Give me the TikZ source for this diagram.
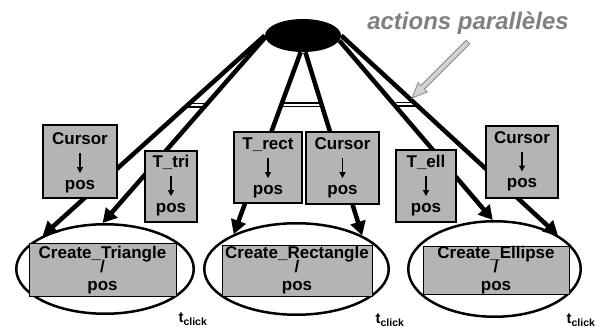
\documentclass[tikz,border=0pt]{standalone}
\usepackage{fontspec}
\setmainfont{Liberation Sans}
\usetikzlibrary{arrows.meta,shapes.geometric}
\definecolor{boxgray}{RGB}{180,180,180}
\definecolor{txtgray}{RGB}{128,128,128}
\definecolor{arrfill}{RGB}{212,212,212}
\definecolor{arredge}{RGB}{140,140,140}
\begin{document}
\begin{tikzpicture}[x=1pt,y=-1pt,
  evbox/.style={draw, fill=boxgray, line width=2.5pt, inner sep=0pt},
  cbox/.style={draw, fill=boxgray, line width=0.8pt, inner sep=0pt, align=center,
    font=\bfseries\fontsize{17}{16.5}\selectfont},
  lbl/.style={inner sep=0pt, text height=12pt, text depth=3.5pt,
    font=\bfseries\fontsize{17}{17}\selectfont},
  bigell/.style={draw, ellipse, line width=2.5pt, inner sep=0pt, fill=white},
  flow/.style={line width=4.5pt, -{Triangle[length=14pt,width=15pt]}},
  parbar/.style={line width=1.5pt, double=white, double distance=2pt},
  smallarr/.style={line width=1.3pt, -{Triangle[length=6pt,width=6pt]},
    shorten <=5pt, shorten >=4pt},
  tclick/.style={inner sep=0pt, font=\bfseries\fontsize{15}{15}\selectfont}
]
\useasboundingbox (0,0) rectangle (605,331);

% top node
\node[ellipse, fill=black, minimum width=76pt, minimum height=33pt, inner sep=0pt] (top) at (303,35.5) {};

% create ellipses
\node[bigell, minimum width=177.5pt, minimum height=89.5pt] (e1) at (105,269) {};
\node[bigell, minimum width=184.5pt, minimum height=91.5pt] (e2) at (296.5,269) {};
\node[bigell, minimum width=172.5pt, minimum height=95.5pt] (e3) at (494.5,269) {};

\node[cbox, minimum width=147pt, minimum height=53pt] (r1) at (102.5,270) {Create\_Triangle\\[-2.5pt]/\\[1.5pt]pos};
\node[cbox, minimum width=150pt, minimum height=51pt] (r2) at (297,270.5) {Create\_Rectangle\\[-2.5pt]/\\[1.5pt]pos};
\node[cbox, minimum width=146pt, minimum height=48pt] (r3) at (496,270) {Create\_Ellipse\\[-2.5pt]/\\[1.5pt]pos};

% parallel bars
\draw[parbar] (186,105.5) -- (206,105.5);
\draw[parbar] (280,105) -- (322,105);
\draw[parbar] (396,104.5) -- (415,104.5);

% flows
\draw[flow] (top.180) -- (e1.152);
\draw[flow] (top.183) -- (e1.93);
\draw[flow] (top.262) -- (e2.151);
\draw[flow] (top.278) -- (e2.27);
\draw[flow] (top.352) -- (e3.92);
\draw[flow] (top.0) -- (e3.28);

% event boxes
\node[evbox, minimum width=74pt, minimum height=73pt] (cu1) at (80,161.5) {};
\node[lbl] (cu1a) at (80,140) {Cursor};
\node[lbl] (cu1b) at (80,185) {pos};
\draw[smallarr] (cu1a) -- (cu1b);

\node[evbox, minimum width=52pt, minimum height=71pt] (tt) at (171,186.5) {};
\node[lbl] (tta) at (171,163) {T\_tri};
\node[lbl] (ttb) at (171,208) {pos};
\draw[smallarr, line width=2pt] (tta) -- (ttb);

\node[evbox, minimum width=68pt, minimum height=71pt] (tr) at (268,167.5) {};
\node[lbl] (tra) at (268,145.5) {T\_rect};
\node[lbl] (trb) at (268,190) {pos};
\draw[smallarr] (tra) -- (trb);

\node[evbox, minimum width=73pt, minimum height=72pt] (cu2) at (342.5,168) {};
\node[lbl] (cu2a) at (342.5,145.5) {Cursor};
\node[lbl] (cu2b) at (342.5,190) {pos};
\draw[smallarr] (cu2a) -- (cu2b);

\node[evbox, minimum width=60pt, minimum height=72pt] (te) at (426,186) {};
\node[lbl] (tea) at (426,163) {T\_ell};
\node[lbl] (teb) at (426,208) {pos};
\draw[smallarr] (tea) -- (teb);

\node[evbox, minimum width=72pt, minimum height=72pt] (cu3) at (522,162) {};
\node[lbl] (cu3a) at (522,139.5) {Cursor};
\node[lbl] (cu3b) at (522,183.5) {pos};
\draw[smallarr] (cu3a) -- (cu3b);

% annotation
\node[font=\bfseries\itshape\fontsize{24}{24}\selectfont, text=txtgray, inner sep=0pt] (act) at (468,23.5) {actions parallèles};
\draw[fill=arrfill, draw=arredge, line width=0.9pt, line join=miter]
  (469.8,43.8) -- (424.4,89.2) -- (427.2,92.0) -- (412,98) -- (418.0,82.8) -- (420.8,85.6) -- (466.2,40.2) -- cycle;

% t_click
\node[tclick] (t1) at (193,319) {t\textsubscript{click}};
\node[tclick] (t2) at (390,320) {t\textsubscript{click}};
\node[tclick] (t3) at (581,320) {t\textsubscript{click}};
\end{tikzpicture}
\end{document}
